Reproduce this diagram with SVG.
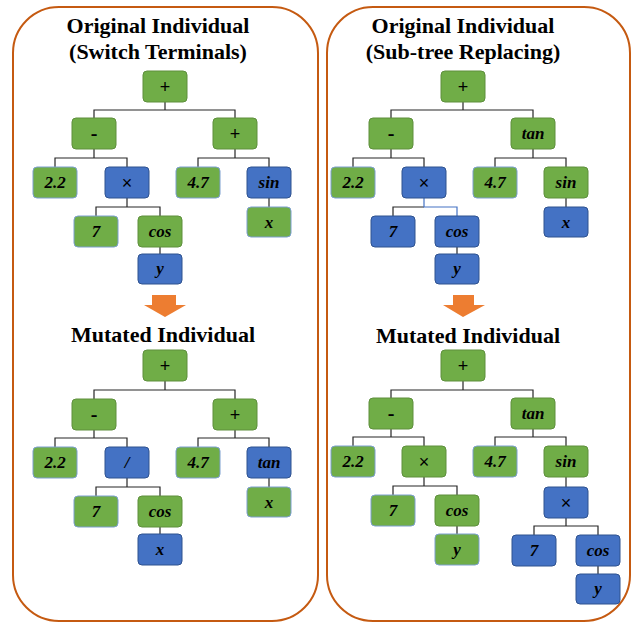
<svg xmlns="http://www.w3.org/2000/svg" width="633" height="624" viewBox="0 0 633 624">
  <!-- panels -->
  <rect x="13" y="7" width="305" height="614" rx="46" ry="46" fill="#ffffff" stroke="#C55A11" stroke-width="2"/>
  <rect x="327" y="7" width="303" height="614" rx="46" ry="46" fill="#ffffff" stroke="#C55A11" stroke-width="2"/>

  <!-- titles -->
  <g id="titles" text-anchor="middle" fill="#000000">
    <text font-family="Liberation Serif" font-weight="bold" font-size="22" x="158" y="33">Original Individual</text>
    <text font-family="Liberation Serif" font-weight="bold" font-size="22" x="158" y="59">(Switch Terminals)</text>
    <text font-family="Liberation Serif" font-weight="bold" font-size="22" x="163" y="342">Mutated Individual</text>
    <text font-family="Liberation Serif" font-weight="bold" font-size="22" x="463" y="33">Original Individual</text>
    <text font-family="Liberation Serif" font-weight="bold" font-size="22" x="463" y="59">(Sub-tree Replacing)</text>
    <text font-family="Liberation Serif" font-weight="bold" font-size="22" x="468" y="343">Mutated Individual</text>
  </g>

  <!-- mutation arrows -->
  <polygon fill="#ED7D31" points="152,295 176,295 176,305 186,305 165,317 144,305 152,305"/>
  <polygon fill="#ED7D31" points="453,295 474,295 474,305 485,305 463,317 443,305 453,305"/>

  <!-- connectors -->
  <g id="connectors" fill="none" stroke="#262626" stroke-width="1.2">
    <!-- left original -->
    <path d="M165,102 V110 M94,118 V110 H235 V118"/>
    <path d="M94,149 V158 M55,167 V158 H127 V167"/>
    <path d="M235,149 V158 M198,167 V158 H269 V167"/>
    <path d="M127,198 V207 M96,216 V207 H160 V216"/>
    <path d="M269,198 V207"/>
    <path d="M160,247 V254"/>
    <!-- left mutated -->
    <path d="M165,381 V390 M94,399 V390 H235 V399"/>
    <path d="M94,430 V438 M55,447 V438 H127 V447"/>
    <path d="M235,430 V438 M198,447 V438 H269 V447"/>
    <path d="M127,478 V487 M96,496 V487 H160 V496"/>
    <path d="M269,478 V487"/>
    <path d="M160,527 V534"/>
    <!-- right original -->
    <path d="M463,102 V110 M391,118 V110 H533 V118"/>
    <path d="M391,149 V158 M353,167 V158 H424 V167"/>
    <path d="M533,149 V158 M495,167 V158 H566 V167"/>
    <path d="M393,216 V207 H424"/>
    <path stroke="#4472C4" d="M424,198 V207 H457 V216"/>
    <path d="M566,198 V207"/>
    <path d="M457,247 V254"/>
    <!-- right mutated -->
    <path d="M463,381 V390 M391,398 V390 H533 V398"/>
    <path d="M391,429 V437 M353,446 V437 H424 V446"/>
    <path d="M533,429 V437 M495,446 V437 H566 V446"/>
    <path d="M424,477 V486 M393,495 V486 H457 V495"/>
    <path d="M566,477 V487"/>
    <path d="M457,526 V534"/>
    <path d="M566,518 V526 M534,535 V526 H598 V535"/>
    <path d="M598,566 V574"/>
  </g>

  <g id="nodes" text-anchor="middle">
  <!-- left panel: original individual -->
  <g id="lo-plus"><rect fill="#70AD47" stroke="#5E8F3D" x="143" y="71" width="44" height="31" rx="4"/><text font-family="Liberation Sans" font-size="18" x="165" y="93">+</text></g>
  <g id="lo-minus"><rect fill="#70AD47" stroke="#5E8F3D" x="72" y="118" width="44" height="31" rx="4"/><text font-family="Liberation Serif" font-weight="bold" font-size="20" x="94" y="140">-</text></g>
  <g id="lo-plus2"><rect fill="#70AD47" stroke="#5E8F3D" x="213" y="118" width="44" height="31" rx="4"/><text font-family="Liberation Sans" font-size="18" x="235" y="140">+</text></g>
  <g id="lo-c22"><rect fill="#70AD47" stroke="#7C9FD0" x="33" y="167" width="44" height="31" rx="4"/><text font-family="Liberation Serif" font-weight="bold" font-style="italic" font-size="17" x="55" y="188">2.2</text></g>
  <g id="lo-times"><rect fill="#4472C4" stroke="#2F528F" x="105" y="167" width="44" height="31" rx="4"/><text font-family="Liberation Sans" font-size="18" x="127" y="189">&#215;</text></g>
  <g id="lo-c47"><rect fill="#70AD47" stroke="#7C9FD0" x="176" y="167" width="44" height="31" rx="4"/><text font-family="Liberation Serif" font-weight="bold" font-style="italic" font-size="17" x="198" y="188">4.7</text></g>
  <g id="lo-sin"><rect fill="#4472C4" stroke="#2F528F" x="247" y="167" width="44" height="31" rx="4"/><text font-family="Liberation Serif" font-weight="bold" font-style="italic" font-size="17" x="269" y="188">sin</text></g>
  <g id="lo-c7"><rect fill="#70AD47" stroke="#7C9FD0" x="74" y="216" width="44" height="31" rx="4"/><text font-family="Liberation Serif" font-weight="bold" font-style="italic" font-size="17" x="96" y="237">7</text></g>
  <g id="lo-cos"><rect fill="#70AD47" stroke="#5E8F3D" x="138" y="216" width="44" height="31" rx="4"/><text font-family="Liberation Serif" font-weight="bold" font-style="italic" font-size="17" x="160" y="237">cos</text></g>
  <g id="lo-x"><rect fill="#70AD47" stroke="#7C9FD0" x="247" y="207" width="44" height="30" rx="4"/><text font-family="Liberation Serif" font-weight="bold" font-style="italic" font-size="17" x="269" y="228">x</text></g>
  <g id="lo-y"><rect fill="#4472C4" stroke="#2F528F" x="138" y="254" width="44" height="30" rx="4"/><text font-family="Liberation Serif" font-weight="bold" font-style="italic" font-size="17" x="160" y="274">y</text></g>

  <!-- left panel: mutated individual -->
  <g id="lm-plus"><rect fill="#70AD47" stroke="#5E8F3D" x="143" y="350" width="44" height="31" rx="4"/><text font-family="Liberation Sans" font-size="18" x="165" y="372">+</text></g>
  <g id="lm-minus"><rect fill="#70AD47" stroke="#5E8F3D" x="72" y="399" width="44" height="31" rx="4"/><text font-family="Liberation Serif" font-weight="bold" font-size="20" x="94" y="421">-</text></g>
  <g id="lm-plus2"><rect fill="#70AD47" stroke="#5E8F3D" x="213" y="399" width="44" height="31" rx="4"/><text font-family="Liberation Sans" font-size="18" x="235" y="421">+</text></g>
  <g id="lm-c22"><rect fill="#70AD47" stroke="#7C9FD0" x="33" y="447" width="44" height="31" rx="4"/><text font-family="Liberation Serif" font-weight="bold" font-style="italic" font-size="17" x="55" y="468">2.2</text></g>
  <g id="lm-div"><rect fill="#4472C4" stroke="#2F528F" x="105" y="447" width="44" height="31" rx="4"/><text font-family="Liberation Serif" font-weight="bold" font-style="italic" font-size="17" x="127" y="468">/</text></g>
  <g id="lm-c47"><rect fill="#70AD47" stroke="#7C9FD0" x="176" y="447" width="44" height="31" rx="4"/><text font-family="Liberation Serif" font-weight="bold" font-style="italic" font-size="17" x="198" y="468">4.7</text></g>
  <g id="lm-tan"><rect fill="#4472C4" stroke="#2F528F" x="247" y="447" width="44" height="31" rx="4"/><text font-family="Liberation Serif" font-weight="bold" font-style="italic" font-size="17" x="269" y="468">tan</text></g>
  <g id="lm-c7"><rect fill="#70AD47" stroke="#7C9FD0" x="74" y="496" width="44" height="31" rx="4"/><text font-family="Liberation Serif" font-weight="bold" font-style="italic" font-size="17" x="96" y="517">7</text></g>
  <g id="lm-cos"><rect fill="#70AD47" stroke="#5E8F3D" x="138" y="496" width="44" height="31" rx="4"/><text font-family="Liberation Serif" font-weight="bold" font-style="italic" font-size="17" x="160" y="517">cos</text></g>
  <g id="lm-x1"><rect fill="#70AD47" stroke="#7C9FD0" x="247" y="487" width="44" height="30" rx="4"/><text font-family="Liberation Serif" font-weight="bold" font-style="italic" font-size="17" x="269" y="508">x</text></g>
  <g id="lm-x2"><rect fill="#4472C4" stroke="#2F528F" x="138" y="534" width="44" height="31" rx="4"/><text font-family="Liberation Serif" font-weight="bold" font-style="italic" font-size="17" x="160" y="555">x</text></g>

  <!-- right panel: original individual -->
  <g id="ro-plus"><rect fill="#70AD47" stroke="#5E8F3D" x="441" y="71" width="44" height="31" rx="4"/><text font-family="Liberation Sans" font-size="18" x="463" y="93">+</text></g>
  <g id="ro-minus"><rect fill="#70AD47" stroke="#5E8F3D" x="369" y="118" width="44" height="31" rx="4"/><text font-family="Liberation Serif" font-weight="bold" font-size="20" x="391" y="140">-</text></g>
  <g id="ro-tan"><rect fill="#70AD47" stroke="#5E8F3D" x="511" y="118" width="44" height="31" rx="4"/><text font-family="Liberation Serif" font-weight="bold" font-style="italic" font-size="17" x="533" y="139">tan</text></g>
  <g id="ro-c22"><rect fill="#70AD47" stroke="#7C9FD0" x="331" y="167" width="44" height="31" rx="4"/><text font-family="Liberation Serif" font-weight="bold" font-style="italic" font-size="17" x="353" y="188">2.2</text></g>
  <g id="ro-times"><rect fill="#4472C4" stroke="#2F528F" x="402" y="167" width="44" height="31" rx="4"/><text font-family="Liberation Sans" font-size="18" x="424" y="189">&#215;</text></g>
  <g id="ro-c47"><rect fill="#70AD47" stroke="#7C9FD0" x="473" y="167" width="44" height="31" rx="4"/><text font-family="Liberation Serif" font-weight="bold" font-style="italic" font-size="17" x="495" y="188">4.7</text></g>
  <g id="ro-sin"><rect fill="#70AD47" stroke="#5E8F3D" x="544" y="167" width="44" height="31" rx="4"/><text font-family="Liberation Serif" font-weight="bold" font-style="italic" font-size="17" x="566" y="188">sin</text></g>
  <g id="ro-c7"><rect fill="#4472C4" stroke="#2F528F" x="371" y="216" width="44" height="31" rx="4"/><text font-family="Liberation Serif" font-weight="bold" font-style="italic" font-size="17" x="393" y="237">7</text></g>
  <g id="ro-cos"><rect fill="#4472C4" stroke="#2F528F" x="435" y="216" width="44" height="31" rx="4"/><text font-family="Liberation Serif" font-weight="bold" font-style="italic" font-size="17" x="457" y="237">cos</text></g>
  <g id="ro-x"><rect fill="#4472C4" stroke="#2F528F" x="544" y="207" width="44" height="30" rx="4"/><text font-family="Liberation Serif" font-weight="bold" font-style="italic" font-size="17" x="566" y="228">x</text></g>
  <g id="ro-y"><rect fill="#4472C4" stroke="#2F528F" x="435" y="254" width="44" height="30" rx="4"/><text font-family="Liberation Serif" font-weight="bold" font-style="italic" font-size="17" x="457" y="274">y</text></g>

  <!-- right panel: mutated individual -->
  <g id="rm-plus"><rect fill="#70AD47" stroke="#5E8F3D" x="441" y="350" width="44" height="31" rx="4"/><text font-family="Liberation Sans" font-size="18" x="463" y="372">+</text></g>
  <g id="rm-minus"><rect fill="#70AD47" stroke="#5E8F3D" x="369" y="398" width="44" height="31" rx="4"/><text font-family="Liberation Serif" font-weight="bold" font-size="20" x="391" y="420">-</text></g>
  <g id="rm-tan"><rect fill="#70AD47" stroke="#5E8F3D" x="511" y="398" width="44" height="31" rx="4"/><text font-family="Liberation Serif" font-weight="bold" font-style="italic" font-size="17" x="533" y="419">tan</text></g>
  <g id="rm-c22"><rect fill="#70AD47" stroke="#7C9FD0" x="331" y="446" width="44" height="31" rx="4"/><text font-family="Liberation Serif" font-weight="bold" font-style="italic" font-size="17" x="353" y="467">2.2</text></g>
  <g id="rm-times"><rect fill="#70AD47" stroke="#5E8F3D" x="402" y="446" width="44" height="31" rx="4"/><text font-family="Liberation Sans" font-size="18" x="424" y="468">&#215;</text></g>
  <g id="rm-c47"><rect fill="#70AD47" stroke="#7C9FD0" x="473" y="446" width="44" height="31" rx="4"/><text font-family="Liberation Serif" font-weight="bold" font-style="italic" font-size="17" x="495" y="467">4.7</text></g>
  <g id="rm-sin"><rect fill="#70AD47" stroke="#5E8F3D" x="544" y="446" width="44" height="31" rx="4"/><text font-family="Liberation Serif" font-weight="bold" font-style="italic" font-size="17" x="566" y="467">sin</text></g>
  <g id="rm-c7"><rect fill="#70AD47" stroke="#7C9FD0" x="371" y="495" width="44" height="31" rx="4"/><text font-family="Liberation Serif" font-weight="bold" font-style="italic" font-size="17" x="393" y="516">7</text></g>
  <g id="rm-cos"><rect fill="#70AD47" stroke="#5E8F3D" x="435" y="495" width="44" height="31" rx="4"/><text font-family="Liberation Serif" font-weight="bold" font-style="italic" font-size="17" x="457" y="516">cos</text></g>
  <g id="rm-y"><rect fill="#70AD47" stroke="#7C9FD0" x="435" y="534" width="44" height="31" rx="4"/><text font-family="Liberation Serif" font-weight="bold" font-style="italic" font-size="17" x="457" y="555">y</text></g>
  <g id="rm-times2"><rect fill="#4472C4" stroke="#2F528F" x="544" y="487" width="44" height="31" rx="4"/><text font-family="Liberation Sans" font-size="18" x="566" y="509">&#215;</text></g>
  <g id="rm-c7b"><rect fill="#4472C4" stroke="#2F528F" x="512" y="535" width="44" height="31" rx="4"/><text font-family="Liberation Serif" font-weight="bold" font-style="italic" font-size="17" x="534" y="556">7</text></g>
  <g id="rm-cosb"><rect fill="#4472C4" stroke="#2F528F" x="576" y="535" width="44" height="31" rx="4"/><text font-family="Liberation Serif" font-weight="bold" font-style="italic" font-size="17" x="598" y="556">cos</text></g>
  <g id="rm-yb"><rect fill="#4472C4" stroke="#2F528F" x="576" y="574" width="44" height="30" rx="4"/><text font-family="Liberation Serif" font-weight="bold" font-style="italic" font-size="17" x="598" y="594">y</text></g>
  </g>
</svg>
